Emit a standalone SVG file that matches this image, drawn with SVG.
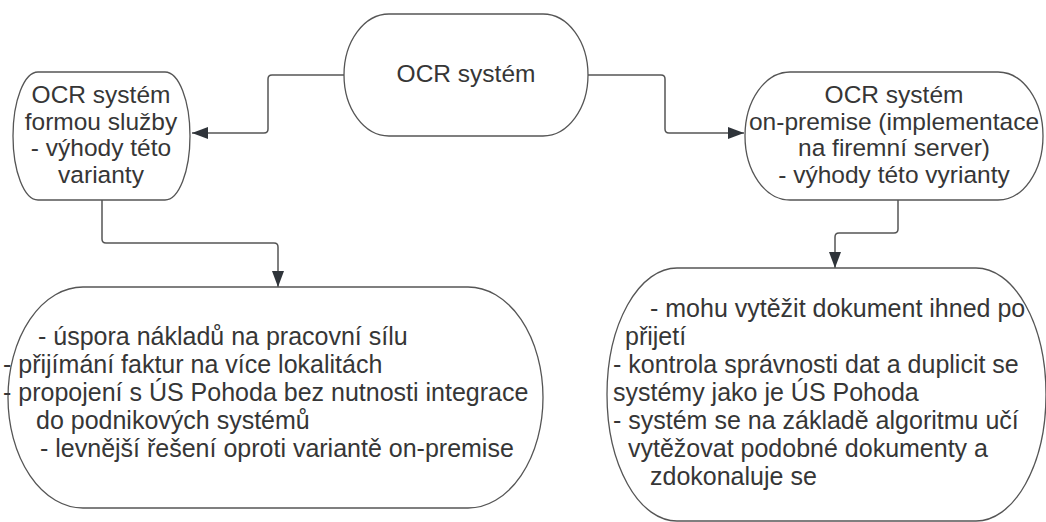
<svg xmlns="http://www.w3.org/2000/svg" width="1046" height="522" viewBox="0 0 1046 522">
  <defs>
    <marker id="arr" markerUnits="userSpaceOnUse" markerWidth="17" markerHeight="13" refX="16" refY="6" orient="auto">
      <path d="M0,0 L16,6 L0,12 z" fill="#2f343a"/>
    </marker>
    <style>
      .shape { fill: #ffffff; stroke: #555555; stroke-width: 1.3; }
      .t { font-family: "Liberation Sans", Arial, sans-serif; font-size: 24.5px; fill: #363636; }
      .b { font-size: 25px; }
      .c { text-anchor: middle; }
      .conn { fill: none; stroke: #555555; stroke-width: 1.5; marker-end: url(#arr); }
    </style>
  </defs>
  <rect width="1046" height="522" fill="#ffffff"/>

  <g id="connectors">
    <path class="conn" d="M344,75 H272 Q268,75 268,79 V129 Q268,133 264,133 H192"/>
    <path class="conn" d="M588,75 H661 Q665,75 665,79 V129 Q665,133 669,133 H744"/>
    <path class="conn" d="M102,200 V239 Q102,243 106,243 H274 Q278,243 278,247 V287"/>
    <path class="conn" d="M898,200 V229 Q898,233 894,233 H839 Q835,233 835,237 V268"/>
  </g>

  <g id="node-top">
    <rect class="shape" x="344" y="14" width="244" height="122" rx="45" ry="61"/>
    <text class="t c" x="466" y="82">OCR systém</text>
  </g>

  <g id="node-left">
    <rect class="shape" x="13" y="72" width="177" height="128" rx="25" ry="64"/>
    <text class="t c" x="101" y="103">OCR systém</text>
    <text class="t c" x="101" y="129.5">formou služby</text>
    <text class="t c" x="101" y="156">- výhody této</text>
    <text class="t c" x="101" y="182.5">varianty</text>
  </g>

  <g id="node-right">
    <rect class="shape" x="745" y="72" width="298" height="128" rx="45" ry="64"/>
    <text class="t c" x="894" y="103">OCR systém</text>
    <text class="t c" x="894" y="129.5">on-premise (implementace</text>
    <text class="t c" x="894" y="156">na firemní server)</text>
    <text class="t c" x="894" y="182.5">- výhody této vyrianty</text>
  </g>

  <g id="node-bottom-left">
    <rect class="shape" x="8" y="287" width="535" height="221" rx="75" ry="110.5"/>
    <text class="t b" x="38" y="345">- úspora nákladů na pracovní sílu</text>
    <text class="t b" x="3" y="373">- přijímání faktur na více lokalitách</text>
    <text class="t b" x="3" y="401">- propojení s ÚS Pohoda bez nutnosti integrace</text>
    <text class="t b" x="36" y="429">do podnikových systémů</text>
    <text class="t b" x="40" y="457">- levnější řešení oproti variantě on-premise</text>
  </g>

  <g id="node-bottom-right">
    <rect class="shape" x="607" y="268" width="439" height="253" rx="70" ry="126.5"/>
    <text class="t b" x="650" y="317">- mohu vytěžit dokument ihned po</text>
    <text class="t b" x="625" y="345">přijetí</text>
    <text class="t b" x="613" y="373">- kontrola správnosti dat a duplicit se</text>
    <text class="t b" x="613" y="401">systémy jako je ÚS Pohoda</text>
    <text class="t b" x="613" y="429">- systém se na základě algoritmu učí</text>
    <text class="t b" x="628" y="457">vytěžovat podobné dokumenty a</text>
    <text class="t b" x="650" y="485">zdokonaluje se</text>
  </g>
</svg>
